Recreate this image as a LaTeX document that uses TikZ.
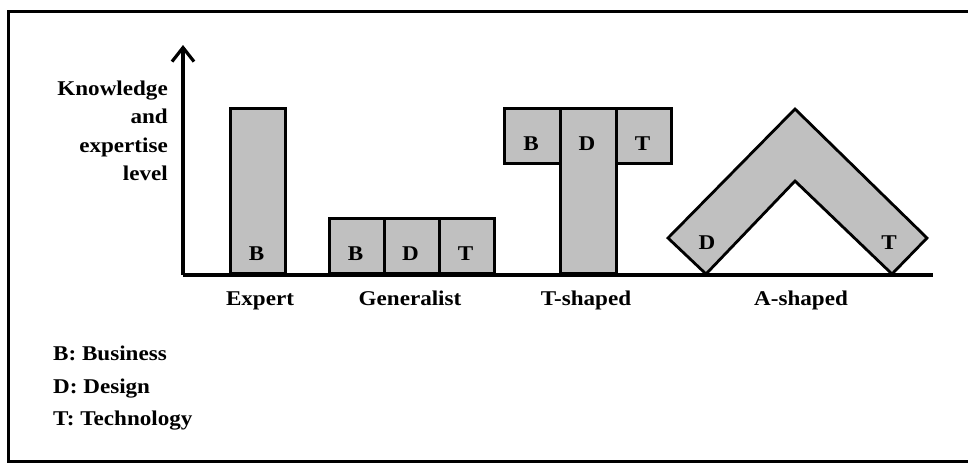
\documentclass[tikz,border=0pt]{standalone}
\usepackage{fontspec}
\setmainfont{Liberation Serif}
\usetikzlibrary{arrows.meta}
\definecolor{boxgray}{HTML}{C0C0C0}
\newcommand{\wdtxt}[1]{\scalebox{1.1}[1]{#1}}
\tikzset{
  blk/.style={draw=black, fill=boxgray, line width=2.8pt, inner sep=0pt, anchor=south west},
  lbl/.style={font=\fontsize{21}{25}\selectfont\bfseries, inner sep=0pt, anchor=base},
  axis/.style={line width=3.2pt},
}
\begin{document}
\begin{tikzpicture}[x=1pt, y=-1pt]
  \useasboundingbox (0,0) rectangle (968,464);
  % outer frame (right side runs off the page)
  \draw[line width=3pt] (968,11) -- (8,11) -- (8,461) -- (968,461);

  % axes
  \coordinate (o) at (183,275);
  \coordinate (top) at (183,45);
  \coordinate (xend) at (933,275);

  % Expert
  \node[blk, minimum width=55pt, minimum height=165pt] (ex) at (229,275) {};
  \node[lbl] (exB) at (256.5,260) {\wdtxt{B}};

  % Generalist
  \node[blk, minimum width=55pt, minimum height=55pt] (gB) at (328,275) {};
  \node[blk, minimum width=55pt, minimum height=55pt] (gD) at (383,275) {};
  \node[blk, minimum width=55pt, minimum height=55pt] (gT) at (438,275) {};
  \node[lbl] (gBl) at (355.5,260) {\wdtxt{B}};
  \node[lbl] (gDl) at (410.5,260) {\wdtxt{D}};
  \node[lbl] (gTl) at (465.5,260) {\wdtxt{T}};

  % T-shaped
  \node[blk, minimum width=56pt, minimum height=165pt] (tD) at (559,275) {};
  \node[blk, minimum width=56pt, minimum height=55pt] (tB) at (503,165) {};
  \node[blk, minimum width=55pt, minimum height=55pt] (tT) at (615,165) {};
  \node[lbl] (tBl) at (531,150) {\wdtxt{B}};
  \node[lbl] (tDl) at (587,150) {\wdtxt{D}};
  \node[lbl] (tTl) at (642.5,150) {\wdtxt{T}};

  % A-shaped
  \draw[line width=2.8pt, fill=boxgray, line join=miter]
    (706,274) -- (668,238) -- (795,109) -- (927,238) -- (892,274) -- (795,181) -- cycle;
  \node[lbl] (aDl) at (707,249) {\wdtxt{D}};
  \node[lbl] (aTl) at (889,249) {\wdtxt{T}};

  % axis lines on top of the bars
  \draw[axis] (o) -- (xend);
  \draw[axis, -{Straight Barb[length=14pt, width=22pt, line width=3.2pt]}] (o) -- (top);

  % axis title
  \node[lbl, anchor=base east] (k1) at (168,95) {\wdtxt{Knowledge}};
  \node[lbl, anchor=base east] (k2) at (168,123.5) {\wdtxt{and}};
  \node[lbl, anchor=base east] (k3) at (168,152) {\wdtxt{expertise}};
  \node[lbl, anchor=base east] (k4) at (168,180.5) {\wdtxt{level}};

  % category names
  \node[lbl] (cEx) at (260,305) {\wdtxt{Expert}};
  \node[lbl] (cGe) at (410,305) {\wdtxt{Generalist}};
  \node[lbl] (cT) at (586,305) {\wdtxt{T-shaped}};
  \node[lbl] (cA) at (801,305) {\wdtxt{A-shaped}};

  % legend
  \node[lbl, anchor=base west] (l1) at (53,360) {\wdtxt{B: Business}};
  \node[lbl, anchor=base west] (l2) at (53,393) {\wdtxt{D: Design}};
  \node[lbl, anchor=base west] (l3) at (53,425) {\wdtxt{T: Technology}};
\end{tikzpicture}
\end{document}
